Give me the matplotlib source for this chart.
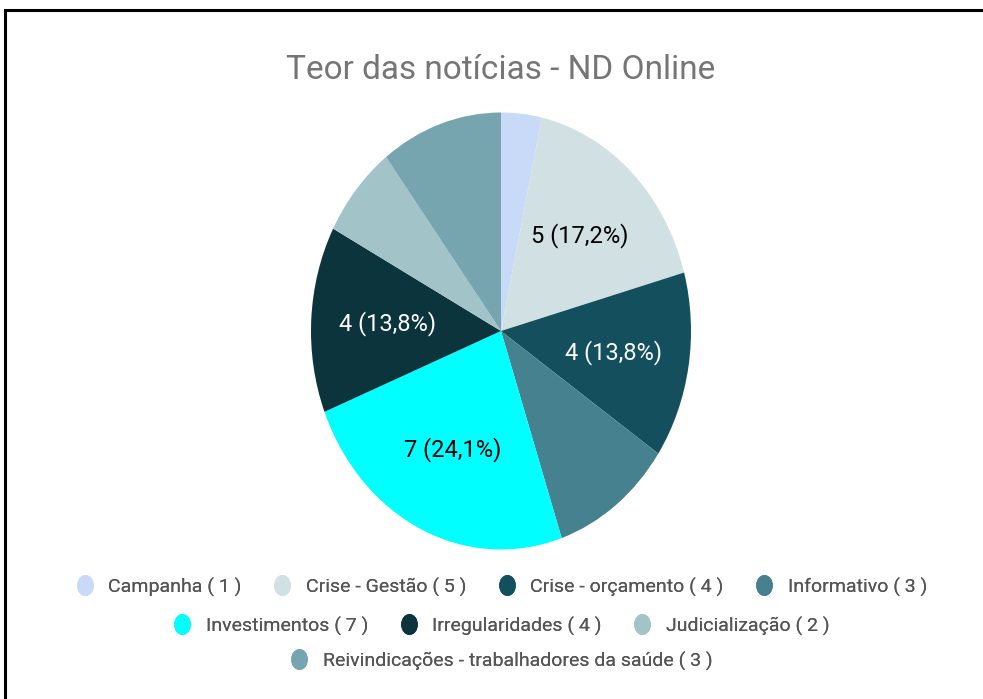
import matplotlib
matplotlib.use("Agg")
import matplotlib.pyplot as plt
from matplotlib.patches import Rectangle
from matplotlib.lines import Line2D
from matplotlib.path import Path
from matplotlib.transforms import Affine2D

plt.rcParams['font.family'] = ['Roboto', 'DejaVu Sans']

categories = ["Campanha", "Crise - Gestão", "Crise - orçamento", "Informativo",
              "Investimentos", "Irregularidades", "Judicialização",
              "Reivindicações - trabalhadores da saúde"]
values = [1, 5, 4, 3, 7, 4, 2, 3]
colors = ["#c9daf8", "#d0e0e3", "#134f5c", "#45818e",
          "#00ffff", "#0c343d", "#a2c4c9", "#76a5af"]
label_colors = ["black", "black", "white", "white", "black", "white", "black", "black"]
title = "Teor das notícias - ND Online"

W, H = 983, 699
fig = plt.figure(figsize=(W / 100, H / 100), dpi=100)
fig.patch.set_facecolor("white")

# pie axes (ellipse region in pixels)
cx, cy, rx, ry = 501, 331, 190, 218.5
ax = fig.add_axes([(cx - rx) / W, (H - cy - ry) / H, 2 * rx / W, 2 * ry / H])
total = sum(values)

def fmt(v):
    return f"{v} ({v / total * 100:.1f}%)".replace(".", ",")

labels_txt = [fmt(v) if v >= 4 else "" for v in values]
wedges, texts = ax.pie(values, colors=colors, startangle=90, counterclock=False,
                       labels=labels_txt, labeldistance=0.6,
                       wedgeprops=dict(linewidth=0))
for t, c in zip(texts, label_colors):
    t.set_color(c)
    t.set_fontsize(17)
    t.set_ha("center")
    t.set_va("center")
ax.set_aspect("auto")
ax.set_xlim(-1, 1)
ax.set_ylim(-1, 1)
ax.axis("off")

fig.text(cx / W, 1 - 70 / H, title, ha="center", va="center",
         fontsize=24, color="#757575")

# elliptical legend marker
ell = Path.unit_circle().transformed(Affine2D().scale(0.8, 1.0))
handles = [Line2D([], [], linestyle="none", marker=ell, markersize=15,
                  markerfacecolor=w.get_facecolor(), markeredgewidth=0)
           for w in wedges]

leg_labels = [f"{c} ( {v} )" for c, v in zip(categories, values)]
rows = [(0, 4, 587), (4, 7, 626), (7, 8, 661)]
for a, b, y in rows:
    lg = fig.legend(handles[a:b], leg_labels[a:b], loc="center",
                    bbox_to_anchor=(cx / W, 1 - y / H), ncol=b - a,
                    frameon=False, fontsize=14, handlelength=1.0,
                    handleheight=1.0, handletextpad=0.7, columnspacing=1.6,
                    borderpad=0, borderaxespad=0)
    for t in lg.get_texts():
        t.set_color("#555555")
    fig.add_artist(lg)

# border
fig.add_artist(Rectangle((5 / W, -0.1), 1.2, (H - 10) / H + 0.1,
                         transform=fig.transFigure, fill=False,
                         edgecolor="black", linewidth=2.2))

fig.savefig("out.png", dpi=100)
